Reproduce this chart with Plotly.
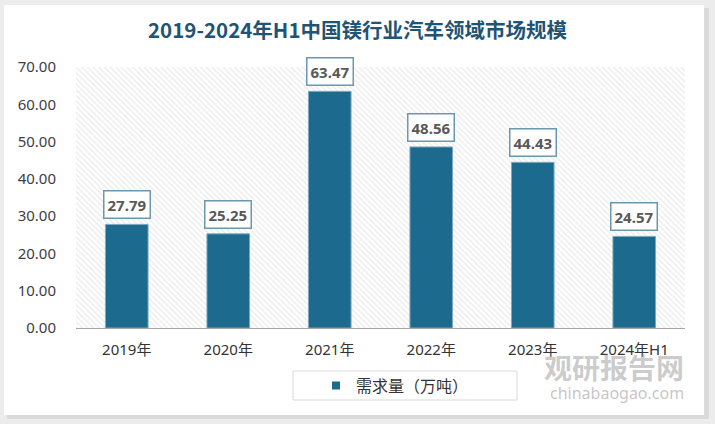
import plotly.graph_objects as go

categories = ["2019年", "2020年", "2021年", "2022年", "2023年", "2024年H1"]
values = [27.79, 25.25, 63.47, 48.56, 44.43, 24.57]
series_name = "需求量（万吨）"
title_text = "2019-2024年H1中国镁行业汽车领域市场规模"
y_ticks = [0, 10, 20, 30, 40, 50, 60, 70]

BAR = "#1c6a8e"
FONT = "Noto Sans, Noto Sans CJK SC, sans-serif"
CJK = "Noto Sans CJK SC, Noto Sans, sans-serif"

W, H = 715, 424
L, R, T, B = 76, 30, 67, 96

def px_to_paper_x(px):
    return (px - L) / (W - L - R)

def py_to_paper_y(py):
    return (H - B - py) / (H - T - B)

fig = go.Figure()

# hatched plot background (base axes)
fig.add_trace(go.Bar(
    x=[0], y=[1], width=[1], xaxis="x", yaxis="y",
    marker=dict(color="#ffffff", line=dict(width=0),
                pattern=dict(shape="\\", fgcolor="#d4d4d4", bgcolor="#ffffff", size=4, solidity=0.3)),
    showlegend=False, hoverinfo="skip",
))

# data bars on overlaying axes
fig.add_trace(go.Bar(
    x=categories, y=values, name=series_name, xaxis="x2", yaxis="y2",
    width=0.42, showlegend=False,
    marker=dict(color=BAR, line=dict(color="#7fa9c0", width=1)),
))

# legend entry with a small square symbol
fig.add_trace(go.Scatter(
    x=[None], y=[None], mode="markers", name=series_name, xaxis="x2", yaxis="y2",
    marker=dict(symbol="square", size=8, color=BAR),
))

annotations = []
for c, v in zip(categories, values):
    annotations.append(dict(
        x=c, y=v, xref="x2", yref="y2", text=f"<b>{v:.2f}</b>",
        showarrow=False, yanchor="bottom", yshift=5,
        font=dict(family=FONT, size=15, color="#595959"),
        bgcolor="#ffffff", bordercolor="#6a98b0", borderwidth=1.5, borderpad=3,
    ))

# watermark
annotations.append(dict(x=px_to_paper_x(686), y=py_to_paper_y(367), xref="paper", yref="paper",
                        xanchor="right", yanchor="middle",
                        text="<b>观研报告网</b>", showarrow=False,
                        font=dict(family=CJK, size=28, color="rgba(140,140,140,0.45)")))
annotations.append(dict(x=px_to_paper_x(686), y=py_to_paper_y(393), xref="paper", yref="paper",
                        xanchor="right", yanchor="middle",
                        text="chinabaogao.com", showarrow=False,
                        font=dict(family=FONT, size=16, color="rgba(140,140,140,0.5)")))

shapes = [
    # shadow
    dict(type="rect", xref="paper", yref="paper", layer="below",
         x0=px_to_paper_x(7), x1=px_to_paper_x(709), y0=py_to_paper_y(419), y1=py_to_paper_y(8),
         fillcolor="#dadada", line=dict(width=0)),
    # white panel
    dict(type="rect", xref="paper", yref="paper", layer="below",
         x0=px_to_paper_x(4), x1=px_to_paper_x(704), y0=py_to_paper_y(415), y1=py_to_paper_y(5),
         fillcolor="#ffffff", line=dict(width=0)),
    # legend box
    dict(type="rect", xref="paper", yref="paper", layer="below",
         x0=px_to_paper_x(293), x1=px_to_paper_x(517), y0=py_to_paper_y(400), y1=py_to_paper_y(371),
         fillcolor="#ffffff", line=dict(color="#d9d9d9", width=1)),
]

fig.update_layout(
    width=W, height=H,
    margin=dict(l=L, r=R, t=T, b=B),
    paper_bgcolor="#ececec",
    plot_bgcolor="rgba(0,0,0,0)",
    font=dict(family=FONT, color="#404040"),
    title=dict(text="<b>" + title_text + "</b>", x=0.5, xref="container", xanchor="center",
               y=1 - 31 / H, yref="container", yanchor="middle",
               font=dict(family=CJK, size=20.5, color="#1f5474")),
    xaxis=dict(range=[-0.5, 0.5], visible=False, fixedrange=True),
    yaxis=dict(range=[0, 1], visible=False, fixedrange=True),
    xaxis2=dict(overlaying="x", type="category", showgrid=False, showline=True,
                linecolor="#a6a6a6", linewidth=1, ticks="outside", ticklen=8,
                tickcolor="rgba(0,0,0,0)",
                tickfont=dict(family=FONT, size=15, color="#333333")),
    yaxis2=dict(overlaying="y", side="left", range=[0, 70], tickvals=y_ticks,
                tickformat=".2f", showgrid=False, zeroline=False, showline=False,
                ticks="outside", ticklen=16, tickcolor="rgba(0,0,0,0)",
                tickfont=dict(family=FONT, size=15, color="#404040")),
    showlegend=True,
    legend=dict(orientation="h", x=px_to_paper_x(316), xanchor="left",
                y=py_to_paper_y(385.5), yanchor="middle",
                bgcolor="rgba(0,0,0,0)", borderwidth=0,
                font=dict(family=CJK, size=16, color="#333333"),
                itemwidth=30),
    annotations=annotations,
    shapes=shapes,
)

fig.write_html("out.html", config={"displayModeBar": False},
               post_script="document.body.style.margin='0';")
